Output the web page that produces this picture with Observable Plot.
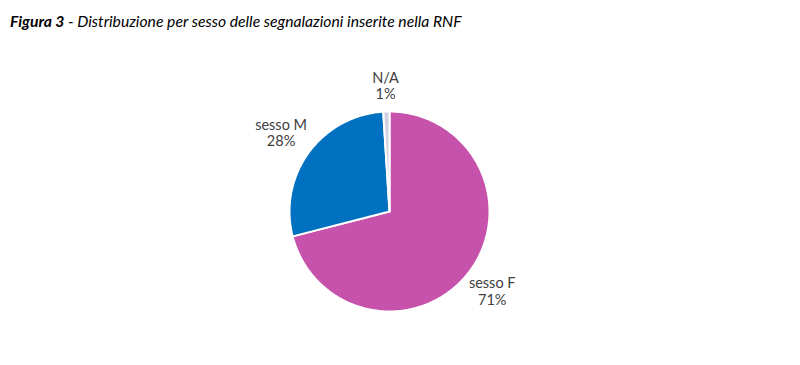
<!DOCTYPE html>
<html>
<head>
<meta charset="utf-8">
<script src="https://cdn.jsdelivr.net/npm/d3@7"></script>
<script src="https://cdn.jsdelivr.net/npm/@observablehq/plot@0.6"></script>
<style>
  html, body { margin: 0; padding: 0; background: #fff; }
  #title { height: 40px; box-sizing: border-box; padding: 12px 0 0 10px; font-family: Lato, "Open Sans", sans-serif; font-size: 15.7px; font-style: italic; color: #000; line-height: 18px; }
  #title b { font-weight: 700; }
</style>
</head>
<body>
<div id="title"><b>Figura 3</b> - Distribuzione per sesso delle segnalazioni inserite nella RNF</div>
<div id="chart"></div>
<script>
const categories = ["sesso F", "sesso M", "N/A"];
const values = [71, 28, 1];
const labels = ["71%", "28%", "1%"];
const colors = ["#C652AB", "#0070C0", "#D3D0E2"];

const total = d3.sum(values);
const slices = [];
let acc = 0;
categories.forEach((c, i) => {
  const a0 = acc / total * 2 * Math.PI;
  acc += values[i];
  const a1 = acc / total * 2 * Math.PI;
  slices.push({cat: c, a0, a1, value: values[i], label: labels[i]});
});

const poly = [];
slices.forEach(s => {
  poly.push({cat: s.cat, x: 0, y: 0});
  const n = Math.max(2, Math.ceil((s.a1 - s.a0) / (Math.PI / 180)));
  for (let k = 0; k <= n; k++) {
    const a = s.a0 + (s.a1 - s.a0) * k / n;
    poly.push({cat: s.cat, x: Math.sin(a), y: Math.cos(a)});
  }
  poly.push({cat: s.cat, x: 0, y: 0});
});

const labelR = [1.3, 1.34, 1.26];
const labelData = slices.map((s, i) => {
  const m = (s.a0 + s.a1) / 2;
  return {text: s.cat + "\n" + s.label, x: Math.sin(m) * labelR[i], y: Math.cos(m) * labelR[i]};
});

const chart = Plot.plot({
  width: 800,
  height: 325,
  marginLeft: 289,
  marginRight: 311,
  marginTop: 71,
  marginBottom: 54,
  x: {domain: [-1, 1], axis: null},
  y: {domain: [-1, 1], axis: null},
  color: {domain: categories, range: colors},
  style: {fontFamily: "Lato, 'Open Sans', sans-serif", background: "#fff"},
  marks: [
    Plot.line(poly, {x: "x", y: "y", z: "cat", fill: "cat", stroke: "#fff", strokeWidth: 2, strokeLinejoin: "round", curve: "linear-closed"}),
    Plot.text(labelData, {x: "x", y: "y", text: "text", fill: "#404040", fontSize: 14.5, lineHeight: 1.15, textAnchor: "middle"})
  ]
});
document.getElementById("chart").appendChild(chart);
</script>
</body>
</html>
